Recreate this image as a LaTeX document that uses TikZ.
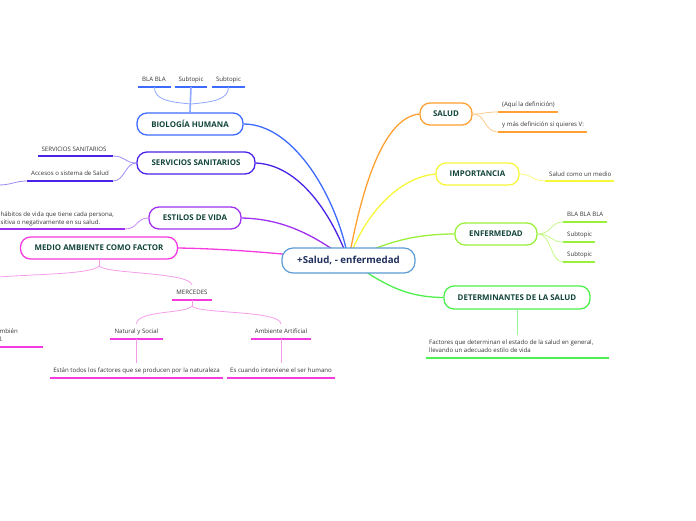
\documentclass[tikz,border=0pt]{standalone}
\usepackage{fontspec}
\setmainfont{Open Sans}
\pgfdeclarelayer{bg}
\pgfsetlayers{bg,main}
\definecolor{cBio}{HTML}{3D6BFF}
\definecolor{cServ}{HTML}{4A22E8}
\definecolor{cEst}{HTML}{A030F0}
\definecolor{cMed}{HTML}{F53BE0}
\definecolor{cSal}{HTML}{FFA033}
\definecolor{cImp}{HTML}{F7F73A}
\definecolor{cEnf}{HTML}{99F03A}
\definecolor{cDet}{HTML}{4DF04D}
\definecolor{cCen}{HTML}{5B9BD5}
\definecolor{lBio}{HTML}{8FA8FF}
\definecolor{lServ}{HTML}{9C8CF5}
\definecolor{lEst}{HTML}{C98AF5}
\definecolor{lMed}{HTML}{F59DEB}
\definecolor{lSal}{HTML}{FFC98A}
\definecolor{lImp}{HTML}{FAFA80}
\definecolor{lEnf}{HTML}{C6F78A}
\definecolor{lDet}{HTML}{99F599}
\definecolor{tdark}{HTML}{12453A}
\definecolor{tnavy}{HTML}{1F2F5C}
\definecolor{tgray}{HTML}{333333}
\begin{document}
\begin{tikzpicture}[x=1pt,y=-1pt,
  topic/.style={draw, line width=1.3pt, rounded corners=10pt, fill=white,
    font=\fontsize{7.9}{9}\selectfont\bfseries, text=tdark, minimum height=22pt, inner sep=0pt},
  central/.style={draw=cCen, line width=1.2pt, rounded corners=11pt, fill=white,
    font=\fontsize{9.7}{11}\selectfont\bfseries, text=tnavy, minimum height=25pt,
    minimum width=133pt, inner sep=0pt},
  sub/.style={font=\fontsize{6.1}{8.6}\selectfont, text=tgray, inner sep=0pt},
  ul/.style={line width=2pt},
  conn/.style={line width=1.3pt},
  subc/.style={line width=0.8pt}]
\useasboundingbox (0,0) rectangle (696,520);

% ---------- main nodes ----------
\node[central] (c) at (348.5,260.5) {+Salud, - enfermedad};
\node[topic, draw=cBio, minimum width=106pt] (bio) at (190,124) {BIOLOGÍA HUMANA};
\node[topic, draw=cServ, minimum width=118pt] (serv) at (196,163) {SERVICIOS SANITARIOS};
\node[topic, draw=cEst, minimum width=92pt] (est) at (195,218) {ESTILOS DE VIDA};
\node[topic, draw=cMed, minimum width=157pt] (med) at (99,248) {MEDIO AMBIENTE COMO FACTOR};
\node[topic, draw=cSal, minimum width=52pt] (sal) at (446,114) {SALUD};
\node[topic, draw=cImp, minimum width=83pt] (imp) at (477.5,174) {IMPORTANCIA};
\node[topic, draw=cEnf, minimum width=82pt] (enf) at (496,234) {ENFERMEDAD};
\node[topic, draw=cDet, minimum width=146pt, minimum height=23pt] (det) at (517,297.5) {DETERMINANTES DE LA SALUD};

% ---------- main connectors ----------
\begin{pgfonlayer}{bg}
\draw[conn, cBio] (bio.east) .. controls (295,124) and (338,200) .. (c.center);
\draw[conn, cServ] (serv.east) .. controls (300,165) and (332,215) .. (c.center);
\draw[conn, cEst] (est.east) .. controls (285,219) and (315,236) .. (c.center);
\draw[conn, cMed] (med.east) .. controls (235,249) and (285,254) .. (c.center);
\draw[conn, cSal] (sal.west) .. controls (378,118) and (358,210) .. (c.center);
\draw[conn, cImp] (imp.west) .. controls (395,178) and (362,220) .. (c.center);
\draw[conn, cEnf] (enf.west) .. controls (415,234) and (385,242) .. (c.center);
\draw[conn, cDet] (det.west) .. controls (405,297) and (385,285) .. (c.center);
\end{pgfonlayer}

% ---------- BIOLOGIA subtopics ----------
\node[sub, anchor=base] (b1) at (154,81) {BLA BLA};
\node[sub, anchor=base] (b2) at (191,81) {Subtopic};
\node[sub, anchor=base] (b3) at (228.5,81) {Subtopic};
\coordinate (b1m) at (154.5,87); \coordinate (b2m) at (191,87); \coordinate (b3m) at (228.5,87);
\draw[ul, cBio] (138,87) -- (171,87);
\draw[ul, cBio] (175,87) -- (207,87);
\draw[ul, cBio] (212,87) -- (245,87);
\coordinate (bj) at (191,104);
\draw[line width=1.6pt, lBio] (bio.north) -- (b2m);
\draw[subc, lBio] (bj) .. controls (170,102) and (154,100) .. (b1m);
\draw[subc, lBio] (bj) .. controls (212,102) and (228.5,100) .. (b3m);

% ---------- SERVICIOS subtopics ----------
\node[sub, anchor=base] (s1) at (74,151) {SERVICIOS SANITARIOS};
\node[sub, anchor=base] (s2) at (70,175) {Accesos o sistema de Salud};
\coordinate (s1r) at (113,156); \coordinate (s2r) at (113,181);
\coordinate (s2l) at (27,181); \coordinate (s2x) at (-2,185);
\draw[ul, cServ] (38,156) -- (s1r);
\draw[ul, cServ] (s2l) -- (s2r);
\draw[subc, lServ] (serv.west) .. controls (125,163) and (125,156) .. (s1r);
\draw[subc, lServ] (serv.west) .. controls (125,163) and (125,181) .. (s2r);
\draw[subc, lServ] (s2l) .. controls (15,181) and (12,185) .. (s2x);

% ---------- ESTILOS subtopic ----------
\node[sub, anchor=north west, align=left] (e1) at (0.5,211.5) {hábitos de vida que tiene cada persona,\\sitiva o negativamente en su salud.};
\coordinate (e1r) at (125,229);
\draw[ul, cEst] (-2,229) -- (e1r);
\draw[subc, lEst] (est.west) .. controls (136,218) and (138,229) .. (e1r);

% ---------- MEDIO AMBIENTE subtopics ----------
\coordinate (mj) at (99,266);
\coordinate (mx) at (-2,277);
\node[sub, anchor=base] (m1) at (192,294.5) {MERCEDES};
\coordinate (m1t) at (192,285);
\coordinate (m1b) at (192,300);
\draw[ul, cMed] (172,300) -- (212,300);
\draw[subc, lMed] (med.south) -- (mj);
\draw[subc, lMed] (mj) .. controls (92,274) and (40,274) .. (mx);
\draw[subc, lMed] (mj) .. controls (106,274) and (190,272) .. (m1t);
\coordinate (mjj) at (192,306);
\node[sub, anchor=base] (m2) at (136.5,333) {Natural y Social};
\node[sub, anchor=base] (m3) at (281,333) {Ambiente Artificial};
\coordinate (m2t) at (136.5,324); \coordinate (m3t) at (281,324);
\coordinate (m2b) at (136.5,339); \coordinate (m3b) at (281,339);
\draw[ul, cMed] (110,339) -- (163,339);
\draw[ul, cMed] (251,339) -- (311,339);
\draw[subc, lMed] (m1b) -- (mjj);
\draw[subc, lMed] (mjj) .. controls (186,314) and (137,310) .. (m2t);
\draw[subc, lMed] (mjj) .. controls (198,314) and (280,310) .. (m3t);
\node[sub, anchor=base] (m4) at (136.5,372) {Están todos los factores que se producen por la naturaleza};
\node[sub, anchor=base] (m5) at (281,372) {Es cuando interviene el ser humano};
\coordinate (m4t) at (136.5,363); \coordinate (m5t) at (281,363);
\draw[ul, cMed] (50,378) -- (223,378);
\draw[ul, cMed] (227,378) -- (335,378);
\draw[subc, lMed] (m2b) -- (m4t);
\draw[subc, lMed] (m3b) -- (m5t);
\node[sub, anchor=north west, align=left] (m6) at (-0.5,328.5) {mbién\\l.};
\draw[ul, cMed] (-2,347) -- (43,347);

% ---------- SALUD subtopics ----------
\node[sub, anchor=base west] (a1) at (502,106) {(Aquí la definición)};
\node[sub, anchor=base west] (a2) at (502,126) {y más definición si quieres V:};
\coordinate (a1l) at (498,112); \coordinate (a2l) at (498,132);
\draw[ul, cSal] (a1l) -- (558,112);
\draw[ul, cSal] (a2l) -- (587,132);
\draw[subc, lSal] (sal.east) .. controls (486,114) and (484,112) .. (a1l);
\draw[subc, lSal] (sal.east) .. controls (486,114) and (484,132) .. (a2l);

% ---------- IMPORTANCIA subtopic ----------
\node[sub, anchor=base west] (i1) at (549,176) {Salud como un medio};
\coordinate (i1l) at (545,181);
\draw[ul, cImp] (i1l) -- (614,181);
\draw[subc, lImp] (imp.east) .. controls (532,174) and (532,181) .. (i1l);

% ---------- ENFERMEDAD subtopics ----------
\node[sub, anchor=base west] (n1) at (567,216) {BLA BLA BLA};
\node[sub, anchor=base west] (n2) at (567,236) {Subtopic};
\node[sub, anchor=base west] (n3) at (567,256) {Subtopic};
\coordinate (n1l) at (563,222); \coordinate (n2l) at (563,242); \coordinate (n3l) at (563,262);
\draw[ul, cEnf] (n1l) -- (607,222);
\draw[ul, cEnf] (n2l) -- (595,242);
\draw[ul, cEnf] (n3l) -- (595,262);
\draw[subc, lEnf] (enf.east) .. controls (552,234) and (550,222) .. (n1l);
\draw[subc, lEnf] (enf.east) .. controls (552,234) and (550,242) .. (n2l);
\draw[subc, lEnf] (enf.east) .. controls (552,234) and (550,262) .. (n3l);

% ---------- DETERMINANTES subtopic ----------
\node[sub, anchor=north west, align=left] (d1) at (429,339.5) {Factores que determinan el estado de la salud en general,\\llevando un adecuado estilo de vida};
\coordinate (d1t) at (517,335);
\draw[ul, cDet] (426,358) -- (609,358);
\draw[subc, lDet] (det.south) -- (d1t);
\end{tikzpicture}
\end{document}
